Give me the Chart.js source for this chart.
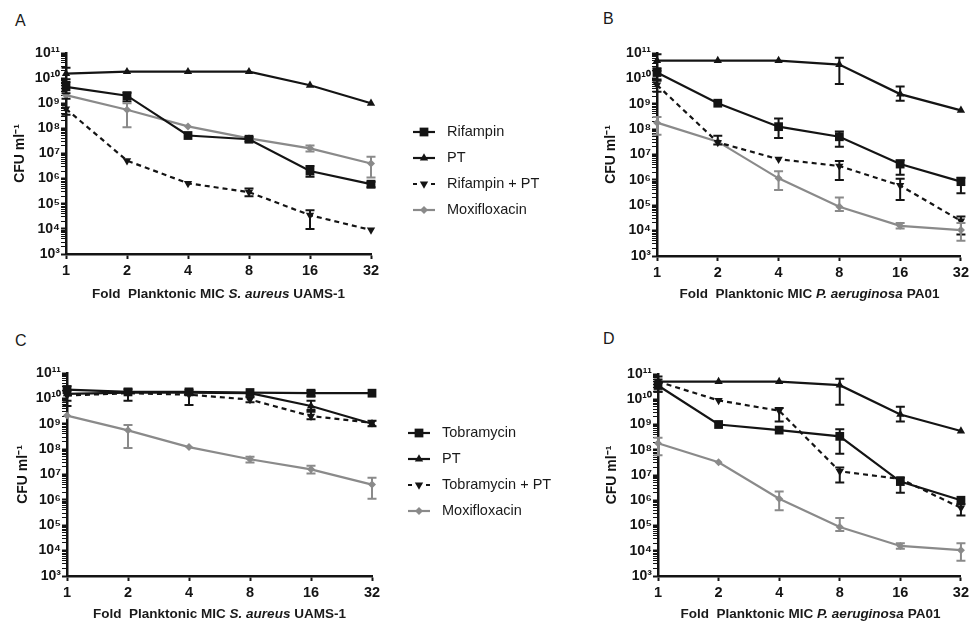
<!DOCTYPE html>
<html>
<head>
<meta charset="utf-8">
<script src="https://cdn.jsdelivr.net/npm/chart.js@4.4.0/dist/chart.umd.min.js"></script>
<style>
  body { margin: 0; background: #fff; width: 972px; height: 624px; position: relative; overflow: hidden;
         font-family: 'Liberation Sans', Arial, sans-serif; color: #1a1a1a; }
  canvas { position: absolute; }
  .letter { position: absolute; font-size: 16px; }
  .xtitle { position: absolute; font-weight: bold; font-size: 13.5px; text-align: center; white-space: pre; }
</style>
</head>
<body>
<div class="letter" style="left:15px;top:12px">A</div>
<div class="letter" style="left:603px;top:10px">B</div>
<div class="letter" style="left:15px;top:332px">C</div>
<div class="letter" style="left:603px;top:330px">D</div>

<canvas id="chartA" width="560" height="310" style="left:0;top:0"></canvas>
<canvas id="chartB" width="382" height="310" style="left:590px;top:0"></canvas>
<canvas id="chartC" width="560" height="314" style="left:0;top:310px"></canvas>
<canvas id="chartD" width="382" height="314" style="left:590px;top:310px"></canvas>

<div class="xtitle" style="left:66px;width:305px;top:286px">Fold  Planktonic MIC <i>S. aureus</i> UAMS-1</div>
<div class="xtitle" style="left:657px;width:305px;top:286px">Fold  Planktonic MIC <i>P. aeruginosa</i> PA01</div>
<div class="xtitle" style="left:67px;width:305px;top:606px">Fold  Planktonic MIC <i>S. aureus</i> UAMS-1</div>
<div class="xtitle" style="left:658px;width:305px;top:606px">Fold  Planktonic MIC <i>P. aeruginosa</i> PA01</div>

<script>
// x categories (fold MIC)
const foldLabels = ['1', '2', '4', '8', '16', '32'];

// Panel A - S. aureus, rifampin
const aRifampin = [4.5e9, 2.0e9, 5.2e7, 3.7e7, 2.0e6, 6.0e5];
const aPT       = [1.5e10, 1.8e10, 1.8e10, 1.8e10, 5.2e9, 1.0e9];
const aRifPT    = [6.0e8, 5.2e6, 6.5e5, 2.9e5, 3.5e4, 9.0e3];
const aMoxi     = [2.1e9, 5.5e8, 1.2e8, 4.0e7, 1.6e7, 4.0e6];
const aRifampinErr = [[2.5e9, 7e9], [1.2e9, 2.6e9], null, [3e7, 4.5e7], [1.2e6, 3.2e6], [4.5e5, 7.5e5]];
const aPTErr       = [[9e9, 2.6e10], null, null, null, null, null];
const aRifPTErr    = [[3.5e8, 1.5e9], null, null, [2e5, 4e5], [1e4, 5.5e4], null];
const aMoxiErr     = [null, [1.1e8, 1.0e9], null, null, [1.2e7, 2.1e7], [1.1e6, 7.5e6]];

// Panel B - P. aeruginosa, rifampin
const bRifampin = [1.7e10, 1.05e9, 1.25e8, 5.0e7, 4.2e6, 8.5e5];
const bPT       = [5.0e10, 5.0e10, 5.0e10, 3.5e10, 2.4e9, 5.5e8];
const bRifPT    = [5.5e9, 3.0e7, 6.5e6, 3.5e6, 6.0e5, 2.4e4];
const bMoxi     = [1.8e8, 3.2e7, 1.15e6, 8.7e4, 1.55e4, 1.05e4];
const bRifampinErr = [[8e9, 2.5e10], null, [4.5e7, 2.6e8], [2e7, 8e7], [1.6e6, 6e6], [3e5, 1.2e6]];
const bPTErr       = [[2e10, 9e10], null, null, [6e9, 6.5e10], [1.3e9, 4.8e9], null];
const bRifPTErr    = [[3e9, 9e9], [2.5e7, 5.5e7], null, [1e6, 5.5e6], [1.6e5, 1.1e6], [7e3, 3.6e4]];
const bMoxiErr     = [[6e7, 3e8], null, [4e5, 2.2e6], [6e4, 2e5], [1.2e4, 2e4], [4e3, 2e4]];

// Panel C - S. aureus, tobramycin
const cTobra    = [2.2e10, 1.8e10, 1.8e10, 1.7e10, 1.6e10, 1.6e10];
const cPT       = [1.5e10, 1.7e10, 1.7e10, 1.6e10, 5.0e9, 1.0e9];
const cTobPT    = [1.3e10, 1.6e10, 1.4e10, 9.0e9, 2.0e9, 1.1e9];
const cMoxi     = [2.1e9, 5.5e8, 1.2e8, 4.0e7, 1.6e7, 4.0e6];
const cTobraErr = [[8e9, 3e10], [8e9, 2.3e10], [5.5e9, 2.2e10], null, [1.2e10, 2e10], null];
const cPTErr    = [null, null, null, null, [3.5e9, 8e9], [8e8, 1.3e9]];
const cTobPTErr = [[5e9, 2e10], null, null, [7e9, 1.1e10], [1.5e9, 3e9], null];
const cMoxiErr  = [null, [1.1e8, 9e8], null, [3e7, 5e7], [1.1e7, 2.2e7], [1.1e6, 7.5e6]];

// Panel D - P. aeruginosa, tobramycin
const dTobra    = [3.5e10, 1.0e9, 6.0e8, 3.4e8, 5.5e6, 1.0e6];
const dPT       = [5.0e10, 5.0e10, 5.0e10, 3.6e10, 2.5e9, 5.5e8];
const dTobPT    = [5.0e10, 9.0e9, 3.5e9, 1.4e7, 7.0e6, 5.0e5];
const dMoxi     = [1.8e8, 3.2e7, 1.15e6, 8.7e4, 1.55e4, 1.05e4];
const dTobraErr = [[2e10, 6e10], null, null, [7e7, 6.5e8], [2e6, 8e6], null];
const dPTErr    = [[2e10, 8e10], null, null, [6e9, 6.5e10], [1.3e9, 5e9], null];
const dTobPTErr = [null, null, [1.3e9, 4.5e9], [5e6, 2e7], null, [2.5e5, 7e5]];
const dMoxiErr  = [[6e7, 3e8], null, [4e5, 2.2e6], [6e4, 2e5], [1.2e4, 2e4], [4e3, 2e4]];

const BLACK = '#141414';
const GREY = '#8a8a8a';
const FONT = "'Liberation Sans', Arial, sans-serif";
const SUP = { '0': '⁰', '1': '¹', '2': '²', '3': '³', '4': '⁴', '5': '⁵', '6': '⁶', '7': '⁷', '8': '⁸', '9': '⁹' };

function powLabel(v) {
  const e = Math.log10(v);
  if (Math.abs(e - Math.round(e)) > 1e-6) return '';
  return '10' + String(Math.round(e)).split('').map(c => SUP[c]).join('');
}

// line styles for the four kinds of series
function drugSet(label, data, errors) {
  return { label, data, errors, borderColor: BLACK, backgroundColor: BLACK, borderWidth: 2.2,
    pointStyle: 'rect', pointRadius: 6.2, pointBackgroundColor: BLACK, pointBorderWidth: 0 };
}
function ptSet(data, errors) {
  return { label: 'PT', data, errors, borderColor: BLACK, backgroundColor: BLACK, borderWidth: 2.2,
    pointStyle: 'triangle', pointRadius: 4.8, pointBackgroundColor: BLACK, pointBorderWidth: 0 };
}
function comboSet(label, data, errors) {
  return { label, data, errors, borderColor: BLACK, backgroundColor: BLACK, borderWidth: 2.2, borderDash: [5, 4],
    pointStyle: 'triangle', pointRotation: 180, pointRadius: 4.8, pointBackgroundColor: BLACK, pointBorderWidth: 0 };
}
function moxiSet(data, errors) {
  return { label: 'Moxifloxacin', data, errors, borderColor: GREY, backgroundColor: GREY, borderWidth: 2.2,
    pointStyle: 'rectRot', pointRadius: 4, pointBackgroundColor: GREY, pointBorderWidth: 0 };
}

// vertical error bars with caps, placed through the y scale
const errorBars = {
  id: 'errorBars',
  afterDatasetsDraw(chart) {
    const ctx = chart.ctx;
    const ys = chart.scales.y;
    chart.data.datasets.forEach((ds, i) => {
      if (!ds.errors) return;
      const meta = chart.getDatasetMeta(i);
      ctx.save();
      ctx.strokeStyle = ds.borderColor;
      ctx.lineWidth = 2;
      ds.errors.forEach((e, j) => {
        if (!e) return;
        const px = meta.data[j].x;
        const lo = ys.getPixelForValue(e[0]);
        const hi = ys.getPixelForValue(e[1]);
        ctx.beginPath();
        ctx.moveTo(px, hi); ctx.lineTo(px, lo);
        ctx.moveTo(px - 4.5, hi); ctx.lineTo(px + 4.5, hi);
        ctx.moveTo(px - 4.5, lo); ctx.lineTo(px + 4.5, lo);
        ctx.stroke();
      });
      ctx.restore();
    });
  }
};

// legend beside the left panels: line + marker + label
const sideLegend = {
  id: 'sideLegend',
  afterDraw(chart, args, opts) {
    if (!opts.show) return;
    const ctx = chart.ctx;
    chart.data.datasets.forEach((ds, i) => {
      const y = opts.top + i * opts.step;
      ctx.save();
      ctx.strokeStyle = ds.borderColor;
      ctx.lineWidth = 2.2;
      ctx.setLineDash(ds.borderDash ? [4, 5] : []);
      ctx.beginPath();
      ctx.moveTo(opts.x, y);
      ctx.lineTo(opts.x + 22, y);
      ctx.stroke();
      ctx.setLineDash([]);
      ctx.fillStyle = ds.pointBackgroundColor;
      Chart.helpers.drawPoint(ctx, { pointStyle: ds.pointStyle, rotation: ds.pointRotation || 0,
        radius: ds.pointRadius, borderWidth: 0 }, opts.x + 11, y);
      ctx.fillStyle = '#1a1a1a';
      ctx.font = '14.5px ' + FONT;
      ctx.textBaseline = 'middle';
      ctx.fillText(ds.label, opts.x + 34, y);
      ctx.restore();
    });
  }
};

function makePanel(id, datasets, g, legend) {
  datasets.forEach(ds => { ds.tension = 0; ds.clip = false; });
  new Chart(document.getElementById(id), {
    type: 'line',
    data: { labels: foldLabels, datasets },
    plugins: [errorBars, sideLegend],
    options: {
      responsive: false,
      animation: false,
      layout: { padding: { top: g.top, right: g.right, bottom: g.bottom, left: 0 } },
      plugins: {
        legend: { display: false },
        tooltip: { enabled: false },
        sideLegend: legend || { show: false }
      },
      scales: {
        x: {
          type: 'category',
          offset: false,
          afterFit(s) { s.height = 30; },
          grid: { drawOnChartArea: false, drawTicks: true, tickLength: 5, tickWidth: 2, tickColor: BLACK },
          border: { display: true, color: BLACK, width: 2.5 },
          ticks: { color: BLACK, padding: 3, maxRotation: 0, font: { family: FONT, size: 14.5, weight: 'bold' } }
        },
        y: {
          type: 'logarithmic',
          min: 1e3,
          max: 1e11,
          afterFit(s) { s.width = g.yWidth; },
          afterBuildTicks(scale) {
            const t = [];
            for (let e = 3; e <= 11; e++) {
              for (let m = 1; m <= 9; m++) {
                if (e === 11 && m > 1) break;
                t.push({ value: m * Math.pow(10, e), major: m === 1 });
              }
            }
            scale.ticks = t;
          },
          grid: { drawOnChartArea: false, drawTicks: true, tickLength: 5, tickColor: BLACK,
                  tickWidth: c => (c.tick && c.tick.major ? 2 : 1) },
          border: { display: true, color: BLACK, width: 2.5 },
          ticks: { autoSkip: false, color: BLACK, padding: 1, callback: v => powLabel(v),
                   font: { family: FONT, size: 14, weight: 'bold' } },
          title: { display: true, text: 'CFU ml⁻¹', color: BLACK, padding: g.titlePad,
                   font: { family: FONT, size: 14, weight: 'bold' } }
        }
      }
    }
  });
}

makePanel('chartA', [
  drugSet('Rifampin', aRifampin, aRifampinErr),
  ptSet(aPT, aPTErr),
  comboSet('Rifampin + PT', aRifPT, aRifPTErr),
  moxiSet(aMoxi, aMoxiErr)
], { top: 53, right: 189, bottom: 26, yWidth: 66, titlePad: 12 },
   { show: true, x: 413, top: 132, step: 26 });

makePanel('chartB', [
  drugSet('Rifampin', bRifampin, bRifampinErr),
  ptSet(bPT, bPTErr),
  comboSet('Rifampin + PT', bRifPT, bRifPTErr),
  moxiSet(bMoxi, bMoxiErr)
], { top: 53, right: 10, bottom: 24, yWidth: 67, titlePad: 13 });

makePanel('chartC', [
  drugSet('Tobramycin', cTobra, cTobraErr),
  ptSet(cPT, cPTErr),
  comboSet('Tobramycin + PT', cTobPT, cTobPTErr),
  moxiSet(cMoxi, cMoxiErr)
], { top: 63, right: 188, bottom: 18, yWidth: 67, titlePad: 15 },
   { show: true, x: 408, top: 123, step: 26 });

makePanel('chartD', [
  drugSet('Tobramycin', dTobra, dTobraErr),
  ptSet(dPT, dPTErr),
  comboSet('Tobramycin + PT', dTobPT, dTobPTErr),
  moxiSet(dMoxi, dMoxiErr)
], { top: 64, right: 9, bottom: 18, yWidth: 68, titlePad: 14 });
</script>
</body>
</html>
